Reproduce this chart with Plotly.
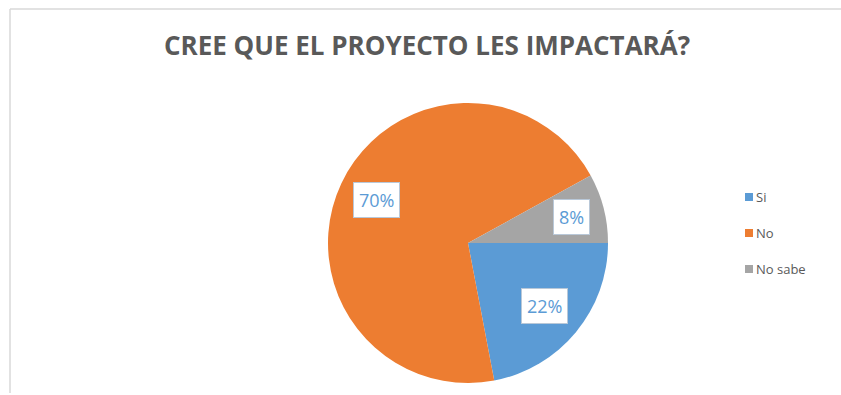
import math
import plotly.graph_objects as go

# Survey answers
categories = ["Si", "No", "No sabe"]
shares = [22, 70, 8]
colors = ["#5B9BD5", "#ED7D31", "#A5A5A5"]
title_text = "CREE QUE EL PROYECTO LES IMPACTARÁ?"

W, H = 841, 395
cx, cy, r = 468, 243, 140          # pie centre / radius in pixels
rotation = 90                      # first slice starts at 3 o'clock
label_radius = [0.71, 0.72, 0.76]  # radial placement of each percentage box

fig = go.Figure()
fig.add_trace(go.Pie(
    labels=categories,
    values=shares,
    sort=False,
    direction="clockwise",
    rotation=rotation,
    marker=dict(colors=colors, line=dict(color="white", width=0)),
    textinfo="none",
    hoverinfo="label+percent",
    showlegend=False,
    domain=dict(x=[(cx - r) / W, (cx + r) / W],
                y=[(H - cy - r) / H, (H - cy + r) / H]),
))

annotations = []
shapes = []

# Percentage labels in white boxes, placed at the middle angle of each slice
total = sum(shares)
start = rotation
for cat, v, fr in zip(categories, shares, label_radius):
    sweep = 360 * v / total
    mid = math.radians(start + sweep / 2)
    start += sweep
    px = cx + fr * r * math.sin(mid)
    py = cy - fr * r * math.cos(mid)
    annotations.append(dict(
        x=px / W, y=1 - py / H, xref="paper", yref="paper",
        xanchor="center", yanchor="middle",
        text=f"{round(100 * v / total)}%", showarrow=False,
        font=dict(family="Open Sans, Arial", size=18, color="#5B9BD5"),
        bgcolor="white", bordercolor="#B9C8D8", borderwidth=1, borderpad=5,
    ))

# Title
annotations.append(dict(
    x=427 / W, y=1 - 45 / H, xref="paper", yref="paper",
    text=f"<b>{title_text}</b>", showarrow=False,
    font=dict(family="Open Sans, Arial", size=26, color="#595959"),
    xanchor="center", yanchor="middle",
))

# Legend: coloured squares with labels
leg_x, leg_y0, leg_dy, sq = 745, 197, 36, 8
for i, (cat, col) in enumerate(zip(categories, colors)):
    yy = leg_y0 + i * leg_dy
    shapes.append(dict(
        type="rect", xref="paper", yref="paper",
        x0=leg_x / W, x1=(leg_x + sq) / W,
        y0=1 - (yy + sq / 2) / H, y1=1 - (yy - sq / 2) / H,
        fillcolor=col, line=dict(width=0),
    ))
    annotations.append(dict(
        x=(leg_x + sq + 1) / W, y=1 - yy / H, xref="paper", yref="paper",
        text=cat, showarrow=False, xanchor="left", yanchor="middle",
        font=dict(family="Open Sans, Arial", size=13, color="#595959"),
    ))

# Chart frame (left and top edges)
frame = "#D9D9D9"
shapes.append(dict(type="line", xref="paper", yref="paper",
                   x0=10 / W, x1=10 / W, y0=1 - 393 / H, y1=1 - 9 / H,
                   line=dict(color=frame, width=1.5)))
shapes.append(dict(type="line", xref="paper", yref="paper",
                   x0=10 / W, x1=1, y0=1 - 9 / H, y1=1 - 9 / H,
                   line=dict(color=frame, width=1.5)))

fig.update_layout(
    width=W, height=H,
    margin=dict(l=0, r=0, t=0, b=0),
    paper_bgcolor="white", plot_bgcolor="white",
    annotations=annotations, shapes=shapes,
)

fig.write_html("out.html")
